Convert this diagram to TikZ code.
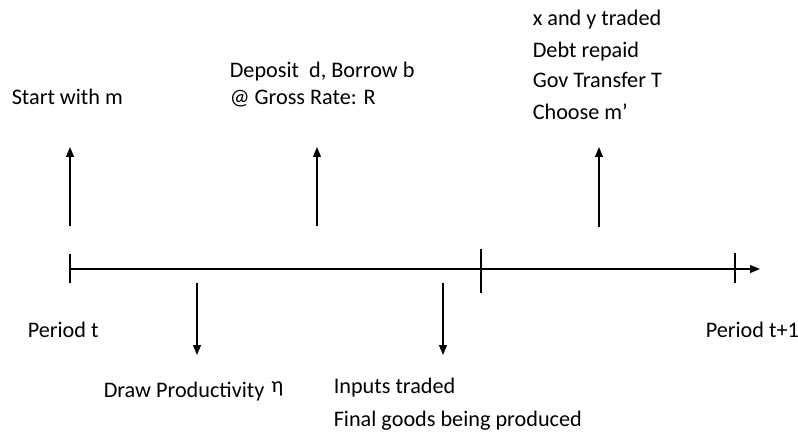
\documentclass[tikz,border=0pt]{standalone}
\usepackage{fontspec}
\setmainfont{Carlito}
\usetikzlibrary{arrows.meta}

\tikzset{
  evt/.style={anchor=base west, inner sep=0pt, font=\fontsize{15.8}{22}\selectfont},
  arr/.style={-{Triangle[length=7pt,width=5.5pt]}},
  tick/.style={line width=1.1pt}
}

\begin{document}
\begin{tikzpicture}[x=0.025cm, y=-0.025cm, line width=1.1pt]
        \useasboundingbox (0,0) rectangle (798,433);

        % time line
        \coordinate (p0) at (70,269);
        \coordinate (pm) at (481,269);
        \coordinate (p1) at (735,269);
        \coordinate (pend) at (760,269);
        \draw[arr] (p0) -- (pend);
        \draw[tick] (p0) ++(0,-15) -- ++(0,29);
        \draw[tick] (pm) ++(0,-20) -- ++(0,44);
        \draw[tick] (p1) ++(0,-16) -- ++(0,30);

        \node[evt] (pt)  at (27,337)  {Period t};
        \node[evt] (pt1) at (705,337) {Period t+1};

        % events above
        \coordinate (a1) at (70,226);  \coordinate (b1) at (70,147);
        \coordinate (a2) at (317,226); \coordinate (b2) at (317,147);
        \coordinate (a3) at (599,227); \coordinate (b3) at (599,147);
        \draw[arr] (a1) -- (b1);
        \draw[arr] (a2) -- (b2);
        \draw[arr] (a3) -- (b3);

        \node[evt] (start) at (11,105) {Start with m};
        \node[evt] (dep)   at (229,78) {Deposit\ \ d, Borrow b};
        \node[evt] (rate)  at (229,105) {@ Gross Rate: R};
        \node[evt] (xy)    at (532,26)  {x and y traded};
        \node[evt] (debt)  at (532,58)  {Debt repaid};
        \node[evt] (gov)   at (532,88)  {Gov Transfer T};
        \node[evt] (cho)   at (532,120) {Choose m’};

        % events below
        \coordinate (c1) at (197,283); \coordinate (d1) at (197,355);
        \coordinate (c2) at (443,283); \coordinate (d2) at (443,355);
        \draw[arr] (c1) -- (d1);
        \draw[arr] (c2) -- (d2);

        \node[evt] (draw)  at (103,397) {Draw Productivity\hspace{5pt}\raisebox{3.5pt}{η}};
        \node[evt] (inp)   at (333,393) {Inputs traded};
        \node[evt] (fin)   at (333,426) {Final goods being produced};
\end{tikzpicture}
\end{document}
